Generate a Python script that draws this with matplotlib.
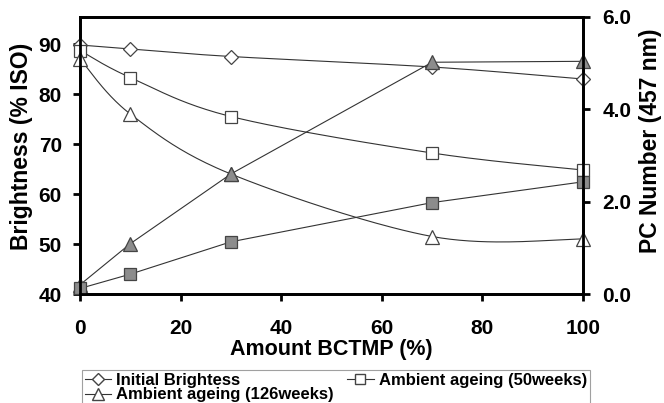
import numpy as np
import matplotlib
matplotlib.use("Agg")
import matplotlib.pyplot as plt
from matplotlib.lines import Line2D

plt.rcParams['font.family'] = ['Liberation Sans', 'DejaVu Sans']
plt.rcParams['font.weight'] = 'bold'

# Data
bctmp = [0, 10, 30, 70, 100]
initial_brightness = [89.8, 89.0, 87.5, 85.4, 83.0]
ageing_50_brightness = [88.7, 83.3, 75.5, 68.2, 64.8]
ageing_126_brightness = [87.0, 76.0, 64.0, 51.5, 51.0]
pc_126 = [0.2, 1.09, 2.6, 5.02, 5.04]
pc_50 = [0.12, 0.43, 1.13, 1.98, 2.43]

X0, X1 = 0, 100
YL0, YL1 = 40, 95.4
YR0, YR1 = 0, 6.0

W, H = 664, 403
L, R, T, B = 80, 583, 17, 294


def smooth(xs, ys, sx, sy, n=40):
    """Catmull-Rom style smooth line through the points (drawing helper)."""
    P = np.column_stack([(np.asarray(xs, float)) / sx, (np.asarray(ys, float)) / sy])
    P = np.vstack([P[0], P, P[-1]])
    out = []
    for i in range(1, len(P) - 2):
        p0, p1, p2, p3 = P[i - 1], P[i], P[i + 1], P[i + 2]
        m1 = (p2 - p0) / 2.0
        m2 = (p3 - p1) / 2.0
        t = np.linspace(0, 1, n)[:, None]
        h00 = 2 * t**3 - 3 * t**2 + 1
        h10 = t**3 - 2 * t**2 + t
        h01 = -2 * t**3 + 3 * t**2
        h11 = t**3 - t**2
        seg = h00 * p1 + h10 * m1 + h01 * p2 + h11 * m2
        out.append(seg if i == 1 else seg[1:])
    out = np.vstack(out)
    return out[:, 0] * sx, out[:, 1] * sy


fig = plt.figure(figsize=(W / 100, H / 100), dpi=100)
ax = fig.add_axes([L / W, 1 - B / H, (R - L) / W, (B - T) / H])
ax2 = ax.twinx()

lc = '#333333'
ec = '#444444'
gray = '#8c8c8c'
lw = 0.8

sx, sy = X1 - X0, YL1 - YL0
# open series on left axis, smooth lines
for ys, mk, size in [(initial_brightness, 'D', 7), (ageing_50_brightness, 's', 9),
                     (ageing_126_brightness, '^', 10)]:
    xx, yy = smooth(bctmp, ys, sx, sy)
    ax.plot(xx, yy, color=lc, lw=lw, zorder=2)
    ax.plot(bctmp, ys, linestyle='none', marker=mk, ms=size,
            mfc='white', mec=ec, mew=0.9, zorder=3, clip_on=False)

# filled series on right axis, straight lines
ax2.plot(bctmp, pc_126, color=lc, lw=lw, marker='^', ms=10.5, mfc=gray, mec=ec, mew=0.9, clip_on=False)
ax2.plot(bctmp, pc_50, color=lc, lw=lw, marker='s', ms=9, mfc=gray, mec=ec, mew=0.9, clip_on=False)

ax.set_xlim(X0, X1)
ax.set_ylim(YL0, YL1)
ax2.set_ylim(YR0, YR1)
ax.set_xticks([0, 20, 40, 60, 80, 100])
ax.set_yticks([40, 50, 60, 70, 80, 90])
ax2.set_yticks([0, 2, 4, 6])
ax2.set_yticklabels(['0.0', '2.0', '4.0', '6.0'])

for a in (ax, ax2):
    for s in a.spines.values():
        s.set_linewidth(2)
        s.set_color('black')
ax.tick_params(axis='both', direction='out', length=5, width=2, labelsize=15)
ax.tick_params(axis='y', pad=8)
ax.tick_params(axis='x', pad=13)
ax2.tick_params(axis='y', direction='out', length=5, width=2, labelsize=15, pad=9)
for lab in ax.get_xticklabels() + ax.get_yticklabels() + ax2.get_yticklabels():
    lab.set_fontweight('bold')

fig.text((L + R) / 2 / W, 1 - 349 / H, 'Amount BCTMP (%)', fontsize=15.5,
         fontweight='bold', ha='center', va='center')
fig.text(22 / W, 1 - 146 / H, 'Brightness (% ISO)', fontsize=16.5,
         fontweight='bold', ha='center', va='center', rotation=90)
fig.text(651 / W, 1 - 141 / H, 'PC Number (457 nm)', fontsize=16.5,
         fontweight='bold', ha='center', va='center', rotation=90)

handles = [
    Line2D([], [], color=lc, lw=lw, marker='D', ms=6, mfc='white', mec=ec),
    Line2D([], [], color=lc, lw=lw, marker='^', ms=8, mfc='white', mec=ec),
    Line2D([], [], color=lc, lw=lw, marker='s', ms=7, mfc='white', mec=ec),
]
labels = ['Initial Brightess', 'Ambient ageing (126weeks)', 'Ambient ageing (50weeks)']
leg = fig.legend(handles, labels, ncol=2, loc='upper left',
                 bbox_to_anchor=(82 / W, 1 - 370 / H),
                 prop={'weight': 'bold', 'size': 12},
                 frameon=True, fancybox=False, edgecolor='#888888',
                 handlelength=1.6, handletextpad=0.3, columnspacing=0.8,
                 labelspacing=0.0, borderpad=0.15, borderaxespad=0)
leg.get_frame().set_linewidth(0.8)

fig.savefig('out.png', dpi=100)
